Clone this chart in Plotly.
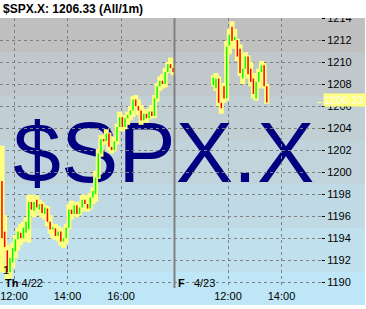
import plotly.graph_objects as go
import pandas as pd

# ---------------- data ----------------
symbol = "$SPX.X"
last_price = 1206.33
title_text = "$SPX.X: 1206.33 (All/1m)"

day1_label = ("Th", "4/22")
day2_label = ("F", "4/23")

# Thursday 4/22 bars (6-minute spacing from 11:33)
day1_start = "11:33"
open1 = [1199.2, 1194.6, 1192.9, 1190.9, 1191.8, 1192.8, 1193.9, 1194.5, 1194.0, 1194.5,
         1194.8, 1197.3, 1196.5, 1197.5, 1196.6, 1197.1, 1196.2, 1196.7, 1195.5, 1194.8,
         1194.9, 1194.2, 1194.6, 1193.7, 1194.0, 1194.95, 1196.6, 1196.2, 1197.0, 1196.2,
         1196.8, 1197.5, 1197.1, 1196.7, 1197.7, 1198.0, 1199.5, 1201.7, 1203.0, 1202.8,
         1203.5, 1202.3, 1202.0, 1202.8, 1204.1, 1205.0, 1204.1, 1204.9, 1205.2, 1205.6,
         1206.6, 1206.0, 1205.6, 1204.7, 1205.3, 1204.9, 1205.5, 1205.1, 1206.7, 1207.8,
         1208.3, 1208.0, 1209.1, 1209.8, 1209.45]
high1 = [1202.4, 1196.1, 1193.4, 1192.8, 1193.6, 1194.3, 1194.95, 1195.3, 1195.5, 1195.9,
         1197.9, 1197.98, 1197.7, 1197.9, 1197.5, 1197.3, 1197.0, 1196.9, 1196.1, 1195.3,
         1195.3, 1195.1, 1194.95, 1194.6, 1195.3, 1197.1, 1197.4, 1197.2, 1197.3, 1197.1,
         1197.9, 1197.98, 1197.8, 1198.1, 1198.6, 1200.1, 1202.1, 1203.4, 1203.4, 1203.9,
         1203.6, 1202.7, 1203.2, 1204.4, 1205.5, 1205.1, 1205.2, 1205.5, 1206.0, 1206.9,
         1207.0, 1206.6, 1206.1, 1205.7, 1205.6, 1205.8, 1206.1, 1207.0, 1208.1, 1208.7,
         1208.9, 1209.45, 1210.0, 1210.4, 1209.8]
low1 = [1190.9, 1192.8, 1190.2, 1190.4, 1191.3, 1192.2, 1192.9, 1193.4, 1193.7, 1193.9,
        1193.6, 1196.1, 1195.9, 1196.4, 1196.1, 1195.9, 1195.7, 1195.1, 1194.4, 1194.0,
        1193.85, 1193.7, 1193.3, 1193.1, 1193.5, 1194.8, 1195.7, 1196.1, 1195.9, 1196.1,
        1196.4, 1196.6, 1196.4, 1196.6, 1197.1, 1197.3, 1199.4, 1201.4, 1202.5, 1202.6,
        1201.9, 1201.7, 1201.9, 1202.5, 1203.8, 1203.7, 1203.9, 1204.3, 1204.7, 1205.0,
        1205.8, 1205.2, 1204.3, 1204.5, 1204.5, 1204.8, 1204.9, 1204.9, 1206.4, 1207.4,
        1207.6, 1207.7, 1209.0, 1209.3, 1208.8]
close1 = [1194.0, 1193.2, 1190.9, 1192.2, 1193.1, 1193.9, 1194.6, 1194.0, 1194.95, 1195.5,
          1197.3, 1196.6, 1197.3, 1196.8, 1197.1, 1196.3, 1196.8, 1195.5, 1194.8, 1195.0,
          1194.2, 1194.6, 1193.7, 1194.0, 1194.95, 1196.6, 1196.2, 1197.0, 1196.2, 1196.8,
          1197.5, 1197.1, 1196.7, 1197.7, 1198.3, 1199.5, 1201.7, 1203.0, 1202.8, 1203.5,
          1202.3, 1202.0, 1202.8, 1204.1, 1205.0, 1204.1, 1204.9, 1205.2, 1205.6, 1206.6,
          1206.0, 1205.6, 1204.7, 1205.3, 1204.9, 1205.5, 1205.1, 1206.7, 1207.8, 1208.3,
          1208.0, 1209.1, 1209.8, 1209.45, 1209.1]

# Friday 4/23 bars (6-minute spacing from 11:27)
day2_start = "11:27"
open2 = [1207.9, 1207.6, 1208.5, 1206.3, 1207.8, 1206.7, 1211.5, 1213.2, 1212.0, 1212.0,
         1211.2, 1208.5, 1209.4, 1210.5, 1209.4, 1208.5, 1206.7, 1208.2, 1209.1, 1209.7,
         1207.8]
high2 = [1208.8, 1209.0, 1208.7, 1206.9, 1208.1, 1211.9, 1213.0, 1213.7, 1213.0, 1212.1,
         1211.6, 1210.7, 1210.9, 1210.6, 1210.0, 1209.0, 1208.5, 1209.4, 1210.1, 1209.9,
         1208.0]
low2 = [1207.8, 1207.4, 1206.0, 1205.3, 1206.3, 1206.5, 1210.7, 1211.4, 1211.2, 1210.1,
        1208.7, 1208.0, 1208.9, 1208.5, 1207.8, 1206.7, 1206.5, 1207.6, 1208.35, 1207.6,
        1206.2]
close2 = [1208.6, 1208.5, 1206.3, 1205.8, 1206.7, 1211.4, 1212.5, 1211.9, 1212.3, 1210.5,
          1209.0, 1209.4, 1210.5, 1208.9, 1208.2, 1207.1, 1208.2, 1209.1, 1209.7, 1207.8,
          1206.33]

day1_ticks = ["12:00", "14:00", "16:00"]
day2_ticks = ["12:00", "14:00"]
price_ticks_start, price_ticks_step = 1190, 2

# ---------------- helpers ----------------
DAY2_OFFSET = 8.0  # axis hours between the two sessions


def hours(label):
    h, m = label.split(":")
    return int(h) + int(m) / 60.0


def bar_times(start, n):
    rng = pd.date_range("2010-04-22 " + start, periods=n, freq="6min")
    return [t.hour + t.minute / 60.0 for t in rng]


t1 = bar_times(day1_start, len(close1))
t2 = [t + DAY2_OFFSET for t in bar_times(day2_start, len(close2))]

T = t1 + t2
O = open1 + open2
H = high1 + high2
L = low1 + low2
C = close1 + close2

yx, yy = [], []
gx, gy = [], []
rx, ry = [], []
for t, o, h, l, c in zip(T, O, H, L, C):
    yx += [t, t, None]
    yy += [l, h, None]
    if c >= o:
        gx += [t, t, None]
        gy += [o, c, None]
    else:
        rx += [t, t, None]
        ry += [o, c, None]

FONT = "Liberation Sans, Arial, sans-serif"

fig = go.Figure()
fig.add_trace(go.Scatter(x=yx, y=yy, mode="lines", line=dict(color="#ffff80", width=5),
                         hoverinfo="skip", showlegend=False))
fig.add_trace(go.Scatter(x=gx, y=gy, mode="lines", line=dict(color="#00ff00", width=1.5),
                         hoverinfo="skip", showlegend=False))
fig.add_trace(go.Scatter(x=rx, y=ry, mode="lines", line=dict(color="#ff0000", width=1.5),
                         hoverinfo="skip", showlegend=False))

# background bands (gray at top to light blue at bottom)
W, Hh = 366, 309
ML, MR, MT, MB = 0, 45, 18, 21
pw, ph = W - ML - MR, Hh - MT - MB


def px_to_paper_y(py):
    return (Hh - MB - py) / ph


band_edges = [18, 52, 96, 140, 184, 228, 272, 305]
band_colors = ["#c0c0c0", "#c1c8cc", "#c1ced4", "#c1d4dc", "#c0dae5", "#c0e0ed", "#bee6f6"]
shapes = []
for i, col in enumerate(band_colors):
    shapes.append(dict(type="rect", xref="paper", yref="paper",
                       x0=0, x1=365 / pw,
                       y0=px_to_paper_y(band_edges[i + 1]), y1=px_to_paper_y(band_edges[i]),
                       fillcolor=col, line=dict(width=0), layer="below"))

# watermark
shapes.append(dict(type="rect", xref="paper", yref="paper", x0=0.01, x1=1.01, y0=0.215, y1=0.855,
                   line=dict(width=0), fillcolor="rgba(0,0,0,0)", layer="below",
                   label=dict(text=symbol, font=dict(size=86, color="#000080", family=FONT),
                              textposition="middle center")))

# session separator
shapes.append(dict(type="line", xref="x", yref="paper", x0=18, x1=18, y0=0, y1=1,
                   line=dict(color="#808080", width=2), layer="above"))
# clip above plot
shapes.append(dict(type="rect", xref="paper", yref="paper", x0=-0.01, x1=1.2, y0=1.0, y1=1.2,
                   fillcolor="white", line=dict(width=0), layer="above"))
# last price marker line
shapes.append(dict(type="line", xref="paper", yref="y", x0=0.988, x1=1.005,
                   y0=last_price, y1=last_price, line=dict(color="#ffff80", width=1),
                   layer="above"))

annotations = [
    dict(text=f"{last_price:.2f}", xref="paper", yref="y", x=1.005, y=last_price,
         xanchor="left", yanchor="middle", yshift=2, showarrow=False,
         bgcolor="#ffff80", borderpad=0, width=44, align="left",
         font=dict(size=11, color="#fafaf0", family=FONT)),
    dict(text=f"<b>{day1_label[0]}</b> {day1_label[1]}", xref="paper", yref="paper",
         x=3 / pw, y=px_to_paper_y(283), xanchor="left", yanchor="middle", showarrow=False,
         font=dict(size=11, color="black", family=FONT)),
    dict(text=f"<b>{day2_label[0]}</b>   {day2_label[1]}", xref="paper", yref="paper",
         x=176 / pw, y=px_to_paper_y(283), xanchor="left", yanchor="middle", showarrow=False,
         font=dict(size=11, color="black", family=FONT)),
    dict(text="1", xref="paper", yref="paper", x=0.5 / pw, y=px_to_paper_y(270),
         xanchor="left", yanchor="middle", showarrow=False,
         font=dict(size=11, color="black", family=FONT)),
]

tickvals = [hours(s) for s in day1_ticks] + [hours(s) + DAY2_OFFSET for s in day2_ticks]
ticktext = day1_ticks + day2_ticks

fig.update_layout(
    width=W, height=Hh,
    margin=dict(l=ML, r=MR, t=MT, b=MB, pad=0),
    paper_bgcolor="white", plot_bgcolor="rgba(0,0,0,0)",
    showlegend=False,
    title=dict(text=f"<b>{title_text}</b>", x=3 / W, xanchor="left", xref="container",
               y=1 - 9 / Hh, yanchor="middle", yref="container",
               font=dict(size=12, color="black", family=FONT)),
    shapes=shapes, annotations=annotations,
    xaxis=dict(range=[12 - 14 / 26.75, 12 - 14 / 26.75 + pw / 26.75],
               tickmode="array", tickvals=tickvals, ticktext=ticktext,
               showgrid=True, gridcolor="#808080", griddash="3px,3px", gridwidth=1,
               zeroline=False, showline=False, ticks="",
               tickfont=dict(size=11, color="black", family=FONT)),
    yaxis=dict(range=[1189.48, 1214.0], side="right", tickmode="linear",
               tick0=price_ticks_start, dtick=price_ticks_step,
               showgrid=True, gridcolor="#808080", griddash="3px,3px", gridwidth=1,
               zeroline=False, showline=False, ticks="outside", ticklen=3,
               tickcolor="black", tickfont=dict(size=11, color="black", family=FONT)),
)

fig.write_html("out.html")
